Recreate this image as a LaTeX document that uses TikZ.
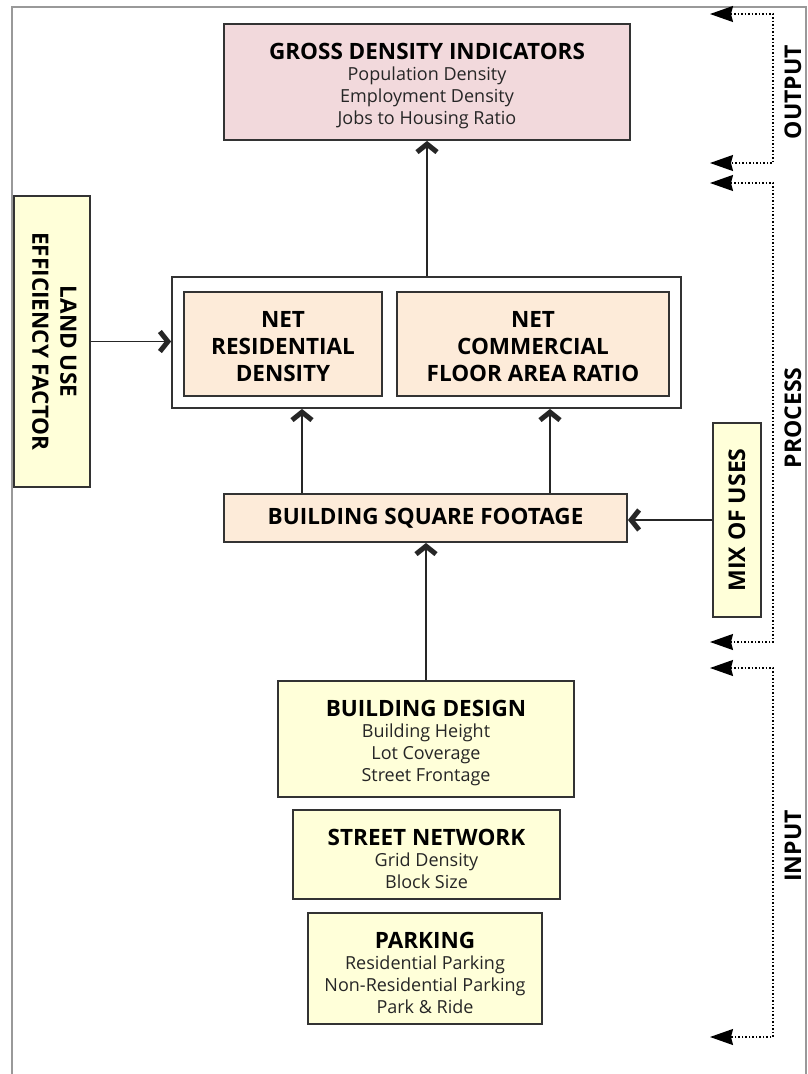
\documentclass[tikz,border=0pt]{standalone}
\usepackage{fontspec}
\setmainfont{Open Sans}
\usepackage{tikz}
\usetikzlibrary{positioning,calc,arrows.meta}

\definecolor{grosspink}{HTML}{F2D9DC}
\definecolor{netpeach}{HTML}{FDEBD9}
\definecolor{inyellow}{HTML}{FFFFD9}
\definecolor{edgegray}{HTML}{333333}

\newcommand{\headfont}{\bfseries\fontsize{22.5}{24}\selectfont\color{black}\rule{0pt}{25pt}}
\newcommand{\itemfont}{\fontsize{18}{22}\selectfont}

\begin{document}
\begin{tikzpicture}[x=1pt, y=-1pt,
    box/.style={draw=edgegray, line width=1.8pt, align=center, inner sep=0pt},
    listbox/.style={box, font=\itemfont, text=black!85},
    bigcap/.style={font=\fontsize{22.5}{27}\selectfont\bfseries},
    sidelabel/.style={font=\fontsize{23}{24}\selectfont\bfseries, rotate=90},
    arrow/.style={-{Straight Barb[length=8pt, width=20pt, line width=5pt]}, line width=1.8pt, draw=black!85},
    dotarrow/.style={{Stealth[length=23pt, width=16pt, inset=2pt]}-{Stealth[length=23pt, width=16pt, inset=2pt]}, dotted, line width=1.5pt}
]
\useasboundingbox (0,0) rectangle (808,1074);

% Frame
\draw[black!40, line width=2pt] (12,1074) -- (12,7) -- (806,7) -- (806,1074);

% Output
\node[listbox, fill=grosspink, minimum width=406pt, minimum height=116pt] (gross) at (427,82)
  {{\headfont GROSS DENSITY INDICATORS}\\[-1pt]
   Population Density\\ Employment Density\\ Jobs to Housing Ratio};

% Process
\node[box, fill=white, minimum width=509pt, minimum height=131pt] (container) at (426.5,342.5) {};
\node[box, fill=netpeach, bigcap, minimum width=198pt, minimum height=104pt] (resid) at (283,344)
  {\rule{0pt}{22pt}NET\\ RESIDENTIAL\\ DENSITY};
\node[box, fill=netpeach, bigcap, minimum width=272pt, minimum height=104pt] (commerce) at (533,344)
  {\rule{0pt}{22pt}NET\\ COMMERCIAL\\ FLOOR AREA RATIO};
\node[box, fill=inyellow, minimum width=76pt, minimum height=291pt] (landuse) at (52,341.5)
  {\rotatebox{-90}{\fontsize{22.5}{28}\selectfont\bfseries\begin{tabular}{@{}c@{}}LAND USE\\ EFFICIENCY FACTOR\end{tabular}}};
\node[box, fill=netpeach, minimum width=403pt, minimum height=48pt] (bsf) at (425.5,518)
  {\fontsize{22.5}{24}\selectfont\bfseries BUILDING SQUARE FOOTAGE};
\node[box, fill=inyellow, minimum width=48pt, minimum height=194pt] (mix) at (737,520)
  {\rotatebox{90}{\fontsize{23}{24}\selectfont\bfseries MIX OF USES}};

% Input
\node[listbox, fill=inyellow, minimum width=296pt, minimum height=116pt] (bdesign) at (426,739)
  {{\headfont BUILDING DESIGN}\\[-1pt]
   Building Height\\ Lot Coverage\\ Street Frontage};
\node[listbox, fill=inyellow, minimum width=267pt, minimum height=89pt] (street) at (426.5,854.5)
  {{\headfont STREET NETWORK}\\[-1pt]
   Grid Density\\ Block Size};
\node[listbox, fill=inyellow, minimum width=234pt, minimum height=111pt] (parking) at (425,968.5)
  {{\headfont PARKING}\\[-1pt]
   Residential Parking\\ Non-Residential Parking\\ Park \& Ride};

% Flows
\draw[arrow] (container.north -| gross.south) -- (gross.south);
\draw[arrow] (landuse.east) -- (landuse.east -| container.west);
\draw[arrow] ($(resid.south |- bsf.north)+(19,0)$) -- ($(resid.south |- container.south)+(19,0)$);
\draw[arrow] ($(commerce.south |- bsf.north)+(17,0)$) -- ($(commerce.south |- container.south)+(17,0)$);
\draw[arrow] (mix.west) -- (mix.west -| bsf.east);
\draw[arrow] (bdesign.north) -- (bdesign.north |- bsf.south);

% Stage brackets
\coordinate (outtop) at (710,14);
\coordinate (outbot) at (710,163);
\coordinate (proctop) at (710,183);
\coordinate (procbot) at (710,642);
\coordinate (intop) at (710,668);
\coordinate (inbot) at (710,1037);
\draw[dotarrow] (outtop) -- ++(63,0) |- (outbot);
\draw[dotarrow] (proctop) -- ++(63,0) |- (procbot);
\draw[dotarrow] (intop) -- ++(63,0) |- (inbot);
\node[sidelabel] (outlbl) at (793,92) {OUTPUT};
\node[sidelabel] (proclbl) at (793,418) {PROCESS};
\node[sidelabel] (inlbl) at (793,846) {INPUT};

\end{tikzpicture}
\end{document}
